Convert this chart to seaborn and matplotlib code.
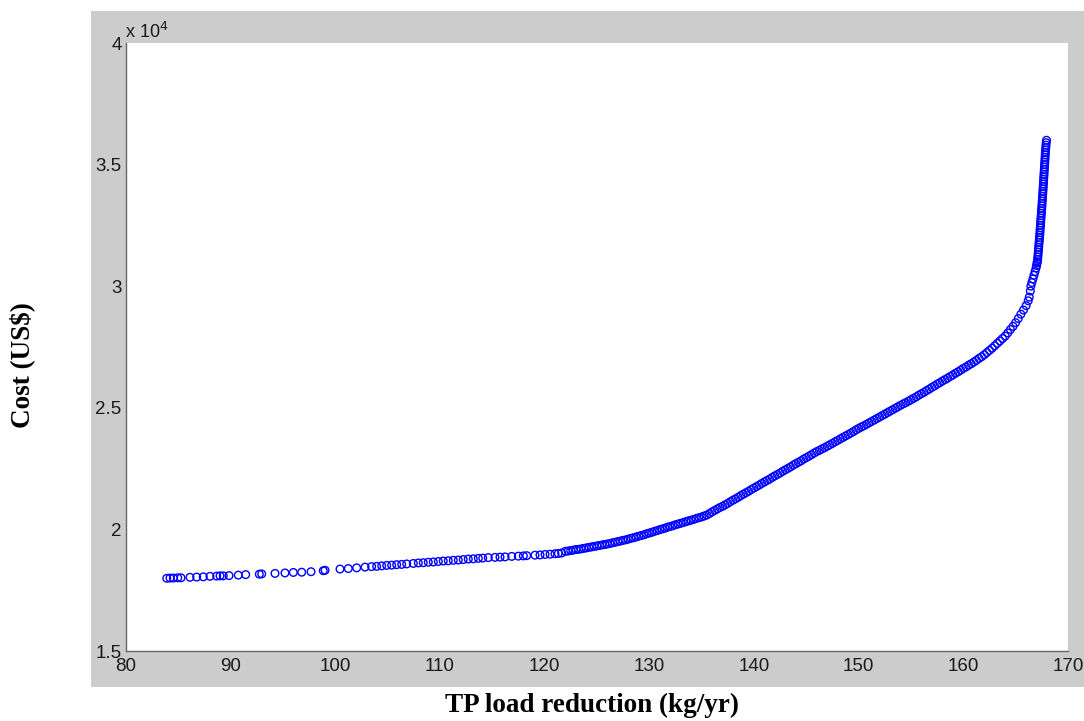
import numpy as np
import matplotlib.pyplot as plt
from matplotlib.ticker import FuncFormatter
import seaborn as sns
import pandas as pd

# Pareto front: TP load reduction (kg/yr) vs cost (US$)
# sparse low-cost end
sparse_x = [83.92, 84.23, 84.55, 84.97, 85.28, 86.14, 86.78, 87.41, 88.05, 88.69,
            89.01, 89.32, 89.87, 90.75, 91.46, 92.76, 92.99, 94.26, 95.21, 96.01,
            96.81, 97.70, 98.87, 99.04, 100.47, 101.26, 102.06, 102.86, 103.49, 103.97,
            104.45, 104.93, 105.40, 105.88, 106.36, 106.84, 107.47, 107.95, 108.42, 108.90,
            109.38, 109.86, 110.33, 110.81, 111.29, 111.77, 112.24, 112.72, 113.20, 113.68,
            114.10, 114.63, 115.27, 115.75, 116.23, 116.87, 117.50, 117.98, 118.30, 119.09,
            119.57, 120.05, 120.53, 121.00, 121.32, 121.64]
sparse_cost = [17990, 18000, 18000, 18010, 18010, 18030, 18040, 18050, 18070, 18080,
               18090, 18090, 18100, 18120, 18140, 18160, 18170, 18190, 18210, 18230,
               18240, 18260, 18300, 18320, 18370, 18390, 18420, 18450, 18470, 18480,
               18500, 18520, 18530, 18550, 18560, 18580, 18600, 18620, 18630, 18650,
               18660, 18680, 18700, 18710, 18730, 18740, 18760, 18780, 18790, 18810,
               18820, 18840, 18850, 18860, 18870, 18890, 18900, 18910, 18920, 18940,
               18950, 18970, 18980, 19000, 19010, 19030]

# denser stretch up to the kink near 135.6 kg/yr
mid_x = [122.00, 122.25, 122.50, 122.75, 123.00, 123.25, 123.50, 123.75, 124.00, 124.25,
         124.50, 124.75, 125.00, 125.25, 125.50, 125.75, 126.00, 126.25, 126.50, 126.75,
         127.00, 127.25, 127.50, 127.75, 128.00, 128.25, 128.50, 128.75, 129.00, 129.25,
         129.50, 129.75, 130.00, 130.25, 130.50, 130.75, 131.00, 131.25, 131.50, 131.75,
         132.00, 132.25, 132.50, 132.75, 133.00, 133.25, 133.50, 133.75, 134.00, 134.25,
         134.50, 134.75, 135.00, 135.25, 135.50]
mid_cost = [19100, 19110, 19130, 19150, 19170, 19180, 19200, 19220, 19240, 19260,
            19280, 19300, 19320, 19340, 19360, 19380, 19400, 19420, 19450, 19470,
            19500, 19520, 19550, 19570, 19600, 19630, 19660, 19690, 19720, 19750,
            19780, 19820, 19850, 19880, 19920, 19950, 19990, 20020, 20050, 20090,
            20120, 20150, 20190, 20220, 20250, 20280, 20320, 20350, 20380, 20410,
            20450, 20480, 20510, 20550, 20590]

# steep dense band
band_x = [135.75, 136.00, 136.25, 136.50, 136.75, 137.00, 137.25, 137.50, 137.75, 138.00,
          138.25, 138.50, 138.75, 139.00, 139.25, 139.50, 139.75, 140.00, 140.25, 140.50,
          140.75, 141.00, 141.25, 141.50, 141.75, 142.00, 142.25, 142.50, 142.75, 143.00,
          143.25, 143.50, 143.75, 144.00, 144.25, 144.50, 144.75, 145.00, 145.25, 145.50,
          145.75, 146.00, 146.25, 146.50, 146.75, 147.00, 147.25, 147.50, 147.75, 148.00,
          148.25, 148.50, 148.75, 149.00, 149.25, 149.50, 149.75, 150.00, 150.25, 150.50,
          150.75, 151.00, 151.25, 151.50, 151.75, 152.00, 152.25, 152.50, 152.75, 153.00,
          153.25, 153.50, 153.75, 154.00, 154.25, 154.50, 154.75, 155.00, 155.25, 155.50,
          155.75, 156.00, 156.25, 156.50, 156.75, 157.00, 157.25, 157.50, 157.75, 158.00,
          158.25, 158.50, 158.75, 159.00, 159.25, 159.50, 159.75, 160.00, 160.25, 160.50,
          160.75, 161.00, 161.25, 161.50, 161.75, 162.00, 162.25, 162.50, 162.75, 163.00,
          163.25, 163.50, 163.75, 164.00, 164.25, 164.50, 164.75, 165.00, 165.25, 165.50,
          165.75, 166.00, 166.20]
band_cost = [20650, 20720, 20780, 20840, 20900, 20950, 21010, 21070, 21140, 21200,
             21260, 21320, 21390, 21450, 21510, 21570, 21640, 21700, 21760, 21820,
             21890, 21950, 22010, 22070, 22140, 22200, 22260, 22320, 22390, 22450,
             22510, 22570, 22640, 22700, 22760, 22820, 22890, 22950, 23010, 23070,
             23140, 23200, 23250, 23310, 23360, 23420, 23480, 23540, 23600, 23660,
             23720, 23780, 23840, 23900, 23960, 24020, 24090, 24150, 24210, 24260,
             24320, 24380, 24440, 24500, 24560, 24620, 24680, 24740, 24800, 24860,
             24920, 24980, 25040, 25100, 25160, 25210, 25270, 25330, 25390, 25450,
             25520, 25580, 25640, 25710, 25770, 25840, 25900, 25970, 26030, 26100,
             26160, 26220, 26290, 26350, 26420, 26480, 26550, 26620, 26680, 26750,
             26810, 26880, 26950, 27030, 27100, 27180, 27270, 27360, 27450, 27550,
             27650, 27750, 27850, 27950, 28080, 28220, 28350, 28500, 28670, 28850,
             29020, 29200, 29400]

# near-vertical tail at max reduction
tail_x = [166.30, 166.40, 166.45, 166.55, 166.65, 166.75, 166.85, 166.95, 167.00, 167.04,
          167.07, 167.10, 167.12, 167.14, 167.16, 167.18, 167.20, 167.22, 167.24, 167.26,
          167.28, 167.30, 167.32, 167.33, 167.35, 167.37, 167.39, 167.40, 167.42, 167.44,
          167.46, 167.47, 167.49, 167.51, 167.52, 167.54, 167.56, 167.57, 167.59, 167.60,
          167.62, 167.63, 167.65, 167.66, 167.68, 167.69, 167.71, 167.72, 167.74, 167.75,
          167.77, 167.78, 167.80, 167.81, 167.83, 167.84, 167.86, 167.88, 167.90, 167.92,
          167.95]
tail_cost = [29550, 29800, 30000, 30150, 30300, 30450, 30600, 30750, 30850, 30950,
             31000, 31100, 31200, 31300, 31400, 31500, 31600, 31700, 31800, 31900,
             32000, 32100, 32200, 32300, 32400, 32500, 32600, 32700, 32800, 32900,
             33000, 33100, 33200, 33300, 33400, 33500, 33600, 33700, 33800, 33900,
             34000, 34100, 34200, 34300, 34400, 34500, 34600, 34700, 34800, 34900,
             35000, 35100, 35200, 35300, 35400, 35500, 35600, 35700, 35800, 35900,
             36000]

x_ticks = [80, 90, 100, 110, 120, 130, 140, 150, 160, 170]
y_ticks = [15000, 20000, 25000, 30000, 35000, 40000]

df = pd.DataFrame({
    'TP': sparse_x + mid_x + band_x + tail_x,
    'Cost': sparse_cost + mid_cost + band_cost + tail_cost,
})

sns.set_theme(style="white")
plt.rcParams['font.family'] = ['Liberation Sans', 'DejaVu Sans']

W, H = 1084, 721
fig = plt.figure(figsize=(W / 100, H / 100), dpi=100, facecolor='white')

# grey MATLAB-style figure panel behind the axes
bg = fig.add_axes([91 / W, 1 - 687 / H, (W - 91) / W, (687 - 11) / H], zorder=-1)
bg.set_facecolor('#cccccc')
bg.set_xticks([])
bg.set_yticks([])
for s in bg.spines.values():
    s.set_visible(False)

ax = fig.add_axes([125.7 / W, 1 - 651 / H, (1068 - 125.7) / W, (651 - 43) / H])
ax.set_facecolor('white')

sns.scatterplot(data=df, x='TP', y='Cost', ax=ax, marker='o', s=30,
                facecolor='none', edgecolor='#0000ff', linewidth=1.0, legend=False)

ax.set_xlim(80, 170)
ax.set_ylim(15000, 40000)
ax.set_xticks(x_ticks)
ax.set_yticks(y_ticks)
ax.yaxis.set_major_formatter(FuncFormatter(lambda v, p: f'{v / 1e4:g}'))
ax.set_xlabel('')
ax.set_ylabel('')

for s in ['top', 'right']:
    ax.spines[s].set_visible(False)
for s in ['left', 'bottom']:
    ax.spines[s].set_color('#666666')
    ax.spines[s].set_linewidth(1.0)
ax.tick_params(axis='both', direction='in', length=7, width=0.9, color='#666666',
               labelsize=13.5, labelcolor='#1a1a1a')
ax.tick_params(axis='x', pad=5)
ax.tick_params(axis='y', pad=3)

# exponent label
fig.text(125 / W, 1 - 38 / H, r'x 10$^{4}$', fontsize=13, color='#1a1a1a',
         ha='left', va='baseline')

fig.text(22 / W, 1 - 365 / H, r'Cost (US\$)', rotation=90, fontsize=19.5,
         fontweight='bold', family=['Liberation Serif', 'DejaVu Serif'],
         color='black', ha='center', va='center')
fig.text(592 / W, 1 - 705 / H, 'TP load reduction (kg/yr)', fontsize=19.5,
         fontweight='bold', family=['Liberation Serif', 'DejaVu Serif'],
         color='black', ha='center', va='center')

fig.savefig('out.png', dpi=100, facecolor='white')
